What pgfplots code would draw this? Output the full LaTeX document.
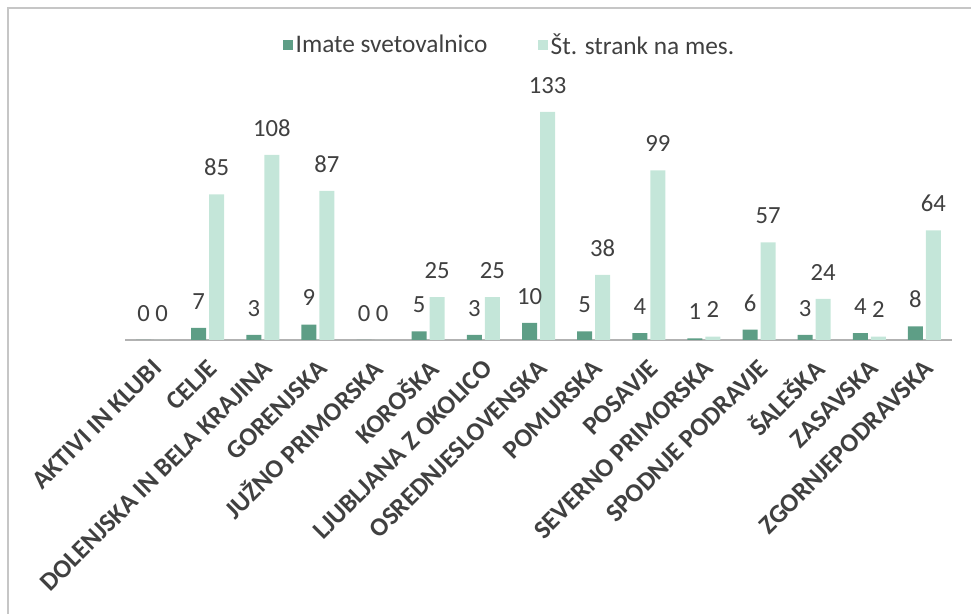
\documentclass[border=0pt]{standalone}
\usepackage{pgfplots}
\pgfplotsset{compat=1.18}
\usepackage{fontspec}
\setmainfont{Carlito}
\definecolor{darkbar}{HTML}{5E9E86}
\definecolor{lightbar}{HTML}{C4E6D9}
\definecolor{txt}{HTML}{404040}
\begin{document}
\begin{tikzpicture}
\useasboundingbox (0,0) rectangle (728.25pt,460.5pt);
\draw[gray!45, line width=0.8pt] (6pt,0pt) -- (6pt,454.5pt) -- (728.25pt,454.5pt);
\begin{axis}[
  at={(93.75pt,205.5pt)}, anchor=south west,
  scale only axis, width=620.25pt, height=180pt,
  ymin=0, ymax=140, xmin=-0.5, xmax=14.5,
  ybar=2.25pt, bar width=11.25pt,
  axis x line*=bottom, axis y line=none,
  x axis line style={draw=gray!60, line width=0.8pt, -},
  major tick length=0pt,
  /pgf/number format/assume math mode=true,
  xtick=data,
  xticklabels={AKTIVI IN KLUBI, CELJE, DOLENJSKA IN BELA KRAJINA, GORENJSKA, JUŽNO PRIMORSKA, KOROŠKA, LJUBLJANA Z OKOLICO, OSREDNJESLOVENSKA, POMURSKA, POSAVJE, SEVERNO PRIMORSKA, SPODNJE PODRAVJE, ŠALEŠKA, ZASAVSKA, ZGORNJEPODRAVSKA},
  xticklabel style={yshift=-18pt, xshift=3.5pt, rotate=45, anchor=east, inner sep=0pt, font=\fontsize{19.5}{19.5}\selectfont\bfseries, text=txt},
  nodes near coords,
  every node near coord/.append style={anchor=base, yshift=14pt, font=\fontsize{18.5}{18.5}\selectfont, text=txt},
  legend columns=2,
  legend style={at={(0.4655,1.229)}, anchor=center, draw=none, fill=none,
    font=\fontsize{19}{19}\selectfont, text=txt,
    /tikz/every even column/.append style={column sep=36pt}},
  legend image code/.code={\fill[#1] (0pt,-3.8pt) rectangle (7.5pt,3.8pt);},
]
\addplot[fill=darkbar, draw=none] coordinates {(0,0) (1,7) (2,3) (3,9) (4,0) (5,5) (6,3) (7,10) (8,5) (9,4) (10,1) (11,6) (12,3) (13,4) (14,8)};
\addplot[fill=lightbar, draw=none] coordinates {(0,0) (1,85) (2,108) (3,87) (4,0) (5,25) (6,25) (7,133) (8,38) (9,99) (10,2) (11,57) (12,24) (13,2) (14,64)};
\legend{Imate svetovalnico, Št. strank na mes.}
\end{axis}
\end{tikzpicture}
\end{document}
